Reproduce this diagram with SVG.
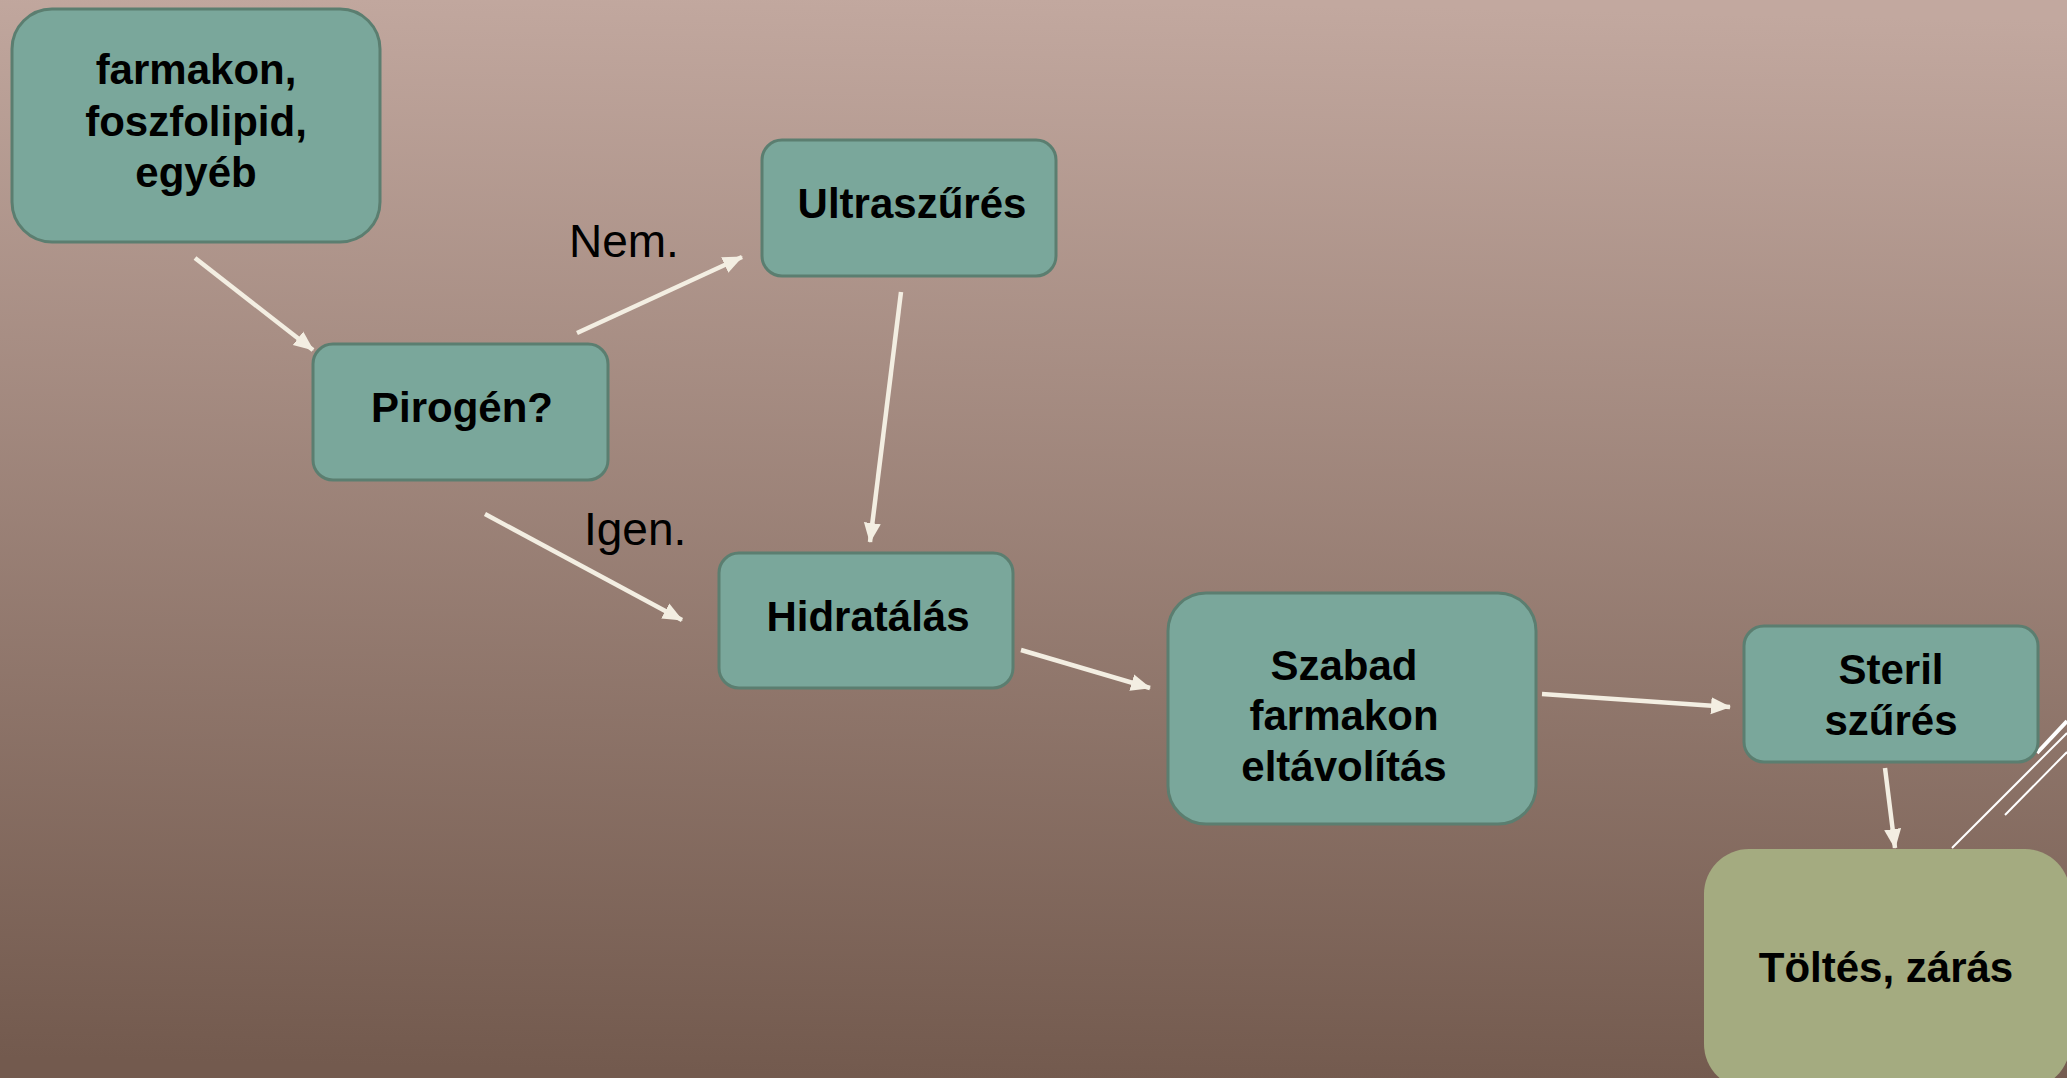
<svg xmlns="http://www.w3.org/2000/svg" width="2067" height="1078" viewBox="0 0 2067 1078">
<defs>
<linearGradient id="bg" x1="0.52" y1="0" x2="0.48" y2="1">
<stop offset="0" stop-color="#c2a89f"/>
<stop offset="1" stop-color="#735a4e"/>
</linearGradient>
<marker id="ah" markerUnits="userSpaceOnUse" markerWidth="20" markerHeight="20" viewBox="0 0 20 20" refX="19" refY="10" orient="auto">
<path d="M0,1.5 L20,10 L0,18.5 Z" fill="#f3eee2"/>
</marker>
<style>
.box{fill:#7aa79b;stroke:#5b7e70;stroke-width:3}
.t{font-family:"Liberation Sans",Arial,sans-serif;font-weight:bold;font-size:42px;fill:#000;text-anchor:middle}
.lbl{font-family:"Liberation Sans",Arial,sans-serif;font-size:46px;fill:#000}
.c{stroke:#f3eee2;stroke-width:4.5;fill:none;marker-end:url(#ah)}
.deco{stroke:#ffffff;fill:none}
</style>
</defs>
<rect x="0" y="0" width="2067" height="1078" fill="url(#bg)"/>

<g id="deco">
<line class="deco" x1="2037" y1="753" x2="2067" y2="721" stroke-width="4"/>
<line class="deco" x1="1952" y1="848" x2="2067" y2="733" stroke-width="2"/>
<line class="deco" x1="2005" y1="815" x2="2067" y2="752" stroke-width="2"/>
</g>

<g id="connectors">
<line class="c" x1="195" y1="258" x2="313" y2="350"/>
<line class="c" x1="577" y1="333" x2="742" y2="257"/>
<line class="c" x1="485" y1="514" x2="682" y2="620"/>
<line class="c" x1="901" y1="292" x2="870" y2="542"/>
<line class="c" x1="1021" y1="650" x2="1150" y2="688"/>
<line class="c" x1="1542" y1="694" x2="1730" y2="707"/>
<line class="c" x1="1885" y1="768" x2="1895" y2="848"/>
</g>

<g id="labels">
<text class="lbl" x="569" y="257">Nem.</text>
<text class="lbl" x="584" y="545">Igen.</text>
</g>

<g id="n-farmakon">
<rect class="box" x="12" y="9" width="368" height="233" rx="40"/>
<text class="t" x="196" y="84">farmakon,</text>
<text class="t" x="196" y="136">foszfolipid,</text>
<text class="t" x="196" y="187">egyéb</text>
</g>

<g id="n-pirogen">
<rect class="box" x="313" y="344" width="295" height="136" rx="20"/>
<text class="t" x="462" y="422">Pirogén?</text>
</g>

<g id="n-ultra">
<rect class="box" x="762" y="140" width="294" height="136" rx="20"/>
<text class="t" x="912" y="218">Ultraszűrés</text>
</g>

<g id="n-hidr">
<rect class="box" x="719" y="553" width="294" height="135" rx="20"/>
<text class="t" x="868" y="631">Hidratálás</text>
</g>

<g id="n-szabad">
<rect class="box" x="1168" y="593" width="368" height="231" rx="38"/>
<text class="t" x="1344" y="680">Szabad</text>
<text class="t" x="1344" y="730">farmakon</text>
<text class="t" x="1344" y="781">eltávolítás</text>
</g>

<g id="n-steril">
<rect class="box" x="1744" y="626" width="294" height="136" rx="20"/>
<text class="t" x="1891" y="684">Steril</text>
<text class="t" x="1891" y="735">szűrés</text>
</g>

<g id="n-toltes">
<rect x="1704" y="849" width="366" height="240" rx="45" fill="#a4ab80"/>
<text class="t" x="1886" y="982">Töltés, zárás</text>
</g>
</svg>
